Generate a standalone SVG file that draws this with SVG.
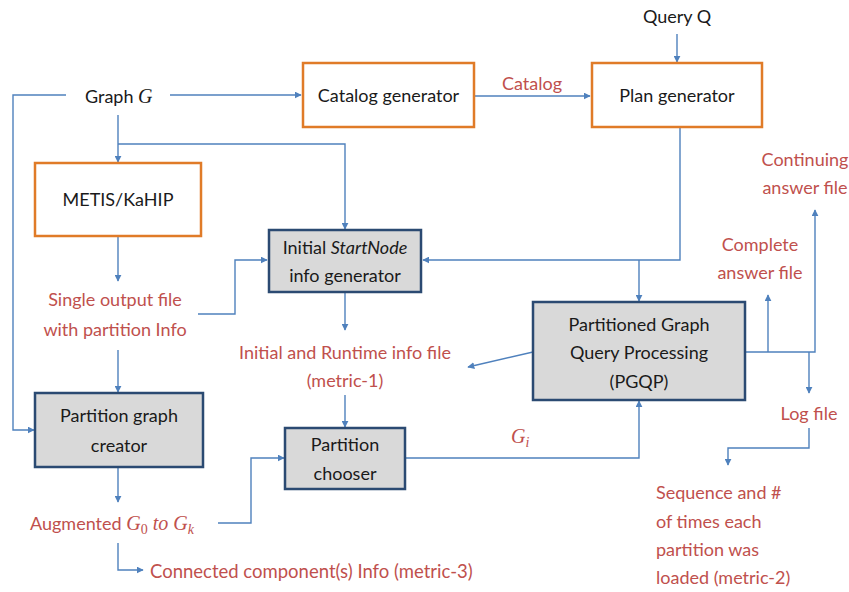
<svg xmlns="http://www.w3.org/2000/svg" width="849" height="592" viewBox="0 0 849 592">
  <style>
    .bg { fill: #ffffff; }
    .orange { fill: #ffffff; stroke: #E07B28; stroke-width: 2.5; }
    .gray { fill: #D9D9D9; stroke: #2B4A72; stroke-width: 2.5; }
    .lbl { font-family: Lato, "Open Sans", sans-serif; font-size: 18px; fill: #1a1a1a; }
    .red { font-family: Lato, "Open Sans", sans-serif; font-size: 18px; fill: #C0504D; }
    .math { font-family: "Liberation Serif", "DejaVu Serif", serif; font-style: italic; font-size: 20px; }
    .conn { fill: none; stroke: #4F81BD; stroke-width: 1.4; }
  </style>
  <defs>
    <marker id="arrow" viewBox="0 0 10 10" refX="9" refY="5" markerWidth="7" markerHeight="7" orient="auto" markerUnits="userSpaceOnUse">
      <path d="M0,0 L10,5 L0,10 z" fill="#4F81BD"/>
    </marker>
  </defs>
  <rect class="bg" x="0" y="0" width="849" height="592"/>

  <!-- connectors -->
  <g id="connectors">
    <path class="conn" d="M66,95 H13 V430 H34" marker-end="url(#arrow)"/>
    <path class="conn" d="M170,95 H301" marker-end="url(#arrow)"/>
    <path class="conn" d="M118,115 V162" marker-end="url(#arrow)"/>
    <path class="conn" d="M118,144 H345 V229" marker-end="url(#arrow)"/>
    <path class="conn" d="M474,96 H590" marker-end="url(#arrow)"/>
    <path class="conn" d="M677,34 V62" marker-end="url(#arrow)"/>
    <path class="conn" d="M680,127 V260 H423" marker-end="url(#arrow)"/>
    <path class="conn" d="M639,260 V301" marker-end="url(#arrow)"/>
    <path class="conn" d="M118,236 V281" marker-end="url(#arrow)"/>
    <path class="conn" d="M198,314 H235 V260 H267" marker-end="url(#arrow)"/>
    <path class="conn" d="M118,350 V392" marker-end="url(#arrow)"/>
    <path class="conn" d="M345,292 V330" marker-end="url(#arrow)"/>
    <path class="conn" d="M345,395 V427" marker-end="url(#arrow)"/>
    <path class="conn" d="M533,352 L468,367" marker-end="url(#arrow)"/>
    <path class="conn" d="M745,352 H815 V210" marker-end="url(#arrow)"/>
    <path class="conn" d="M768,352 V295" marker-end="url(#arrow)"/>
    <path class="conn" d="M809,352 V393" marker-end="url(#arrow)"/>
    <path class="conn" d="M809,428 V448 H728 V465" marker-end="url(#arrow)"/>
    <path class="conn" d="M405,458 H639 V401" marker-end="url(#arrow)"/>
    <path class="conn" d="M118,467 V502" marker-end="url(#arrow)"/>
    <path class="conn" d="M218,523 H251 V458 H284" marker-end="url(#arrow)"/>
    <path class="conn" d="M118,543 V570 H143" marker-end="url(#arrow)"/>
  </g>

  <!-- free-standing labels -->
  <g id="graph-g">
    <text class="lbl" x="85" y="103">Graph <tspan class="math" style="fill:#1a1a1a">G</tspan></text>
  </g>
  <g id="query-q">
    <text class="lbl" x="677" y="23" text-anchor="middle">Query Q</text>
  </g>
  <g id="catalog-label">
    <text class="red" x="532" y="90" text-anchor="middle">Catalog</text>
  </g>

  <!-- process boxes -->
  <g id="catalog-generator">
    <rect class="orange" x="303" y="63" width="171" height="64"/>
    <text class="lbl" x="388.5" y="102" text-anchor="middle">Catalog generator</text>
  </g>
  <g id="plan-generator">
    <rect class="orange" x="592" y="63" width="170" height="64"/>
    <text class="lbl" x="677" y="102" text-anchor="middle">Plan generator</text>
  </g>
  <g id="metis">
    <rect class="orange" x="35" y="163" width="166" height="73"/>
    <text class="lbl" x="118" y="206" text-anchor="middle">METIS/KaHIP</text>
  </g>
  <g id="startnode-generator">
    <rect class="gray" x="269" y="230" width="152" height="62"/>
    <text class="lbl" x="345" y="254" text-anchor="middle">Initial <tspan font-style="italic">StartNode</tspan></text>
    <text class="lbl" x="345" y="282" text-anchor="middle">info generator</text>
  </g>
  <g id="pgqp">
    <rect class="gray" x="533" y="302" width="212" height="98"/>
    <text class="lbl" x="639" y="331" text-anchor="middle">Partitioned Graph</text>
    <text class="lbl" x="639" y="359" text-anchor="middle">Query Processing</text>
    <text class="lbl" x="639" y="388" text-anchor="middle">(PGQP)</text>
  </g>
  <g id="partition-graph-creator">
    <rect class="gray" x="35" y="393" width="168" height="74"/>
    <text class="lbl" x="119" y="422" text-anchor="middle">Partition graph</text>
    <text class="lbl" x="119" y="452" text-anchor="middle">creator</text>
  </g>
  <g id="partition-chooser">
    <rect class="gray" x="285" y="428" width="120" height="61"/>
    <text class="lbl" x="345" y="451" text-anchor="middle">Partition</text>
    <text class="lbl" x="345" y="480" text-anchor="middle">chooser</text>
  </g>

  <!-- data files -->
  <g id="partition-info">
    <text class="red" x="115" y="306" text-anchor="middle">Single output file</text>
    <text class="red" x="115" y="336" text-anchor="middle">with partition Info</text>
  </g>
  <g id="runtime-info">
    <text class="red" x="345" y="359" text-anchor="middle">Initial and Runtime info file</text>
    <text class="red" x="345" y="387" text-anchor="middle">(metric-1)</text>
  </g>
  <g id="continuing-answer">
    <text class="red" x="805" y="166" text-anchor="middle">Continuing</text>
    <text class="red" x="805" y="194" text-anchor="middle">answer file</text>
  </g>
  <g id="complete-answer">
    <text class="red" x="760" y="251" text-anchor="middle">Complete</text>
    <text class="red" x="760" y="279" text-anchor="middle">answer file</text>
  </g>
  <g id="log-file">
    <text class="red" x="809" y="420" text-anchor="middle">Log file</text>
  </g>
  <g id="metric-2">
    <text class="red" x="656" y="499">Sequence and #</text>
    <text class="red" x="656" y="528">of times each</text>
    <text class="red" x="656" y="556">partition was</text>
    <text class="red" x="656" y="584">loaded (metric-2)</text>
  </g>
  <g id="gi-label">
    <text class="math" style="fill:#C0504D" x="511" y="443">G<tspan font-size="14" dy="4">i</tspan></text>
  </g>
  <g id="augmented">
    <text class="red" x="30" y="530">Augmented <tspan class="math">G</tspan><tspan class="math" style="font-style:normal;font-size:14px" dy="4">0</tspan><tspan class="math" dy="-4"> to G</tspan><tspan class="math" style="font-size:14px" dy="4">k</tspan></text>
  </g>
  <g id="metric-3">
    <text class="red" x="150" y="578" style="font-size:18.5px">Connected component(s) Info (metric-3)</text>
  </g>
</svg>
